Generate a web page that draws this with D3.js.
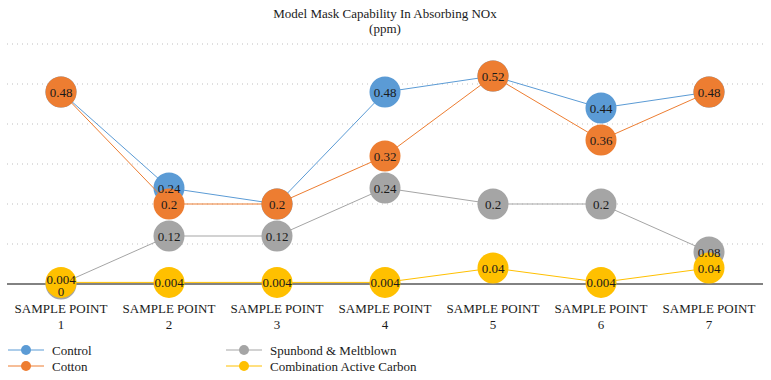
<!DOCTYPE html>
<html>
<head>
<meta charset="utf-8">
<script src="https://cdn.jsdelivr.net/npm/d3@7/dist/d3.min.js"></script>
<style>
  body { margin: 0; background: #fff; }
  svg text { font-family: "Liberation Serif", "DejaVu Serif", serif; fill: #1a1a1a; }
</style>
</head>
<body>
<svg id="chart" width="771" height="380"></svg>
<script>
const categories = ["1", "2", "3", "4", "5", "6", "7"];
const seriesNames = ["Control", "Cotton", "Spunbond & Meltblown", "Combination Active Carbon"];
const control = [0.48, 0.24, 0.2, 0.48, 0.52, 0.44, 0.48];
const cotton = [0.48, 0.2, 0.2, 0.32, 0.52, 0.36, 0.48];
const spunbond = [0, 0.12, 0.12, 0.24, 0.2, 0.2, 0.08];
const combination = [0.004, 0.004, 0.004, 0.004, 0.04, 0.004, 0.04];
const gridTicks = [0.1, 0.2, 0.3, 0.4, 0.5, 0.6];
const colors = ["#5b9bd5", "#ed7d31", "#a5a5a5", "#ffc000"];

const series = [control, cotton, spunbond, combination].map((values, i) => ({
    name: seriesNames[i],
    color: colors[i],
    values: values.map((v, j) => ({ cat: categories[j], v, idx: j }))
}));

const svg = d3.select("#chart");
const plot = { left: 7, right: 763, top: 44, bottom: 284 };

const x = d3.scaleBand().domain(categories).range([plot.left, plot.right]);
const y = d3.scaleLinear().domain([0, 0.6]).range([plot.bottom, plot.top]);
const cx = c => x(c) + x.bandwidth() / 2;

// title
svg.append("text").attr("x", 385).attr("y", 18).attr("text-anchor", "middle")
    .attr("font-size", 13).text("Model Mask Capability In Absorbing NOx");
svg.append("text").attr("x", 385).attr("y", 33).attr("text-anchor", "middle")
    .attr("font-size", 13).text("(ppm)");

// gridlines
svg.append("g").selectAll("line").data(gridTicks).join("line")
    .attr("x1", plot.left).attr("x2", plot.right)
    .attr("y1", d => y(d)).attr("y2", d => y(d))
    .attr("stroke", "#bfbfbf").attr("stroke-width", 1)
    .attr("stroke-dasharray", "1 4");

// baseline
svg.append("line")
    .attr("x1", plot.left).attr("x2", plot.right)
    .attr("y1", y(0)).attr("y2", y(0))
    .attr("stroke", "#595959").attr("stroke-width", 1.3);

// x axis labels
const xl = svg.append("g").selectAll("text").data(categories).join("text")
    .attr("text-anchor", "middle").attr("font-size", 13);
xl.append("tspan").attr("x", d => cx(d)).attr("y", 313).text("SAMPLE POINT");
xl.append("tspan").attr("x", d => cx(d)).attr("y", 329).text(d => d);

const line = d3.line().x(d => cx(d.cat)).y(d => y(d.v));

series.forEach(s => {
    const g = svg.append("g");
    g.append("path").attr("d", line(s.values))
        .attr("fill", "none").attr("stroke", s.color).attr("stroke-width", 1);
    g.selectAll("circle").data(s.values).join("circle")
        .attr("cx", d => cx(d.cat)).attr("cy", d => y(d.v)).attr("r", 15.5)
        .attr("fill", s.color);
});

// data labels: identical labels drawn once, different ones nudged apart
let labels = [];
series.forEach((s, si) => s.values.forEach(d => labels.push({ si, ...d, py: y(d.v) })));
labels = labels.filter(a => !labels.some(b => b.si > a.si && b.idx === a.idx && b.v === a.v));
labels.forEach(a => {
    labels.forEach(b => {
        if (b.si > a.si && b.idx === a.idx && Math.abs(b.py - a.py) < 10) {
            a.py = b.py + 9;
            b.py = b.py - 2.5;
        }
    });
});
svg.append("g").selectAll("text").data(labels).join("text")
    .attr("x", d => cx(d.cat)).attr("y", d => d.py).attr("dy", "0.35em")
    .attr("text-anchor", "middle").attr("font-size", 13)
    .text(d => String(d.v));

// legend
const legendPos = [[8, 350], [8, 366], [226, 350], [226, 366]];
const lg = svg.append("g").selectAll("g").data(series).join("g")
    .attr("transform", (d, i) => `translate(${legendPos[i][0]},${legendPos[i][1]})`);
lg.append("line").attr("x1", 0).attr("x2", 36).attr("y1", 0).attr("y2", 0)
    .attr("stroke", d => d.color).attr("stroke-width", 1);
lg.append("circle").attr("cx", 18).attr("cy", 0).attr("r", 5).attr("fill", d => d.color);
lg.append("text").attr("x", 44).attr("y", 0).attr("dy", "0.35em")
    .attr("font-size", 13).text(d => d.name);
</script>
</body>
</html>
